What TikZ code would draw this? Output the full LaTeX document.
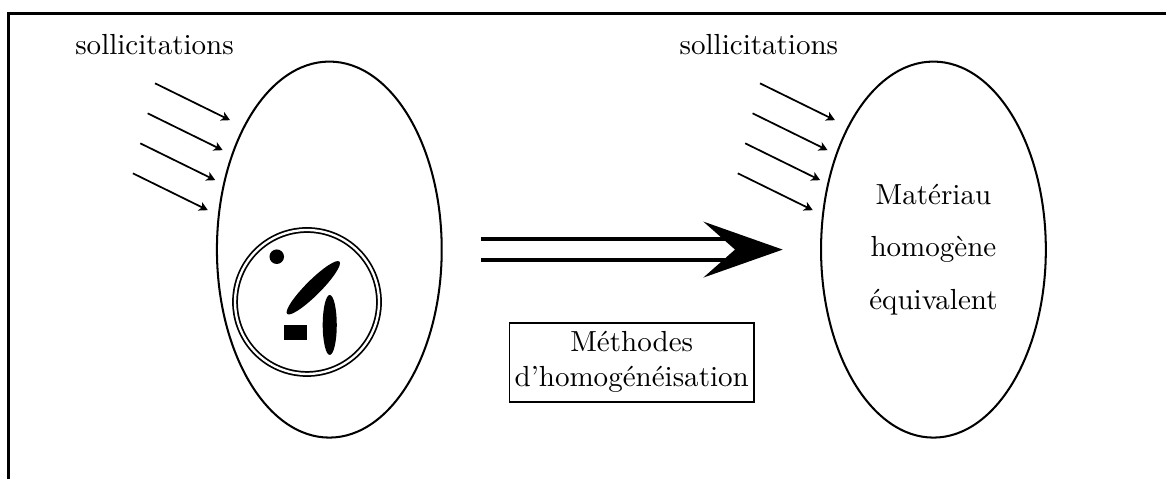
\documentclass[tikz,border=0pt]{standalone}
\usepackage{tikz}
\usetikzlibrary{positioning}
\usetikzlibrary{arrows.meta}
\usetikzlibrary{shapes}

\begin{document}
\begin{tikzpicture}[
      ell style/.style={ellipse,draw=black,line width=0.7pt,minimum
        width=2.72cm,minimum height=4.55cm,inner sep=0pt,align=center},
      force style/.style={line width=0.6pt,-{Stealth[length=3pt,width=3.2pt,inset=0.8pt]}},
      frame style/.style={line width=1pt},
      incl style/.style={fill=black,draw=none,inner sep=0pt}
      ]
      \useasboundingbox (-3.985,-2.776) rectangle (10.124,3.020);
      \draw[frame style] (-3.882,-2.776) |- (10.124,2.857);

      \node[ell style] (hetero) at (0,0) {};
      \node[ell style] (homo) at (7.31,0) {Matériau\\[6pt]homogène\\[6pt]équivalent};

      \node[anchor=base] (sollhetero) at (-2.115,2.355) {sollicitations};
      \node[anchor=base] (sollhomo) at (5.198,2.355) {sollicitations};

      \foreach \k/\dx in {l/0,r/7.32}{
        \foreach \i in {0,...,3}{
          \coordinate (\k fs\i) at (-2.109-0.0895*\i+\dx, 2.012-0.363*\i);
          \coordinate (\k fe\i) at (-1.2015-0.0895*\i+\dx, 1.566-0.363*\i);
          \draw[force style] (\k fs\i) -- (\k fe\i);
        }
      }

      \node[circle,draw=black,double,line width=0.6pt,double distance=0.8pt,
        minimum size=1.742cm,inner sep=0pt] (rve) at (-0.270,-0.634) {};
      \node[incl style,circle,minimum size=0.176cm] (dot) at (-0.636,-0.086) {};
      \node[incl style,ellipse,minimum width=0.896cm,minimum height=0.182cm,
        rotate=45] (fiba) at (-0.194,-0.462) {};
      \node[incl style,ellipse,minimum width=0.17cm,minimum height=0.726cm]
        (fibb) at (0.005,-0.912) {};
      \node[incl style,rectangle,minimum width=0.275cm,minimum height=0.178cm]
        (part) at (-0.41,-1.005) {};

      \coordinate (hstart) at (1.832,0);
      \coordinate (hnotch) at (4.909,0);
      \coordinate (hend) at (5.486,0);
      \draw[line width=1.5pt,double=white,double distance=5.7pt] (hstart) -- (hnotch);
      \fill (hend) -- ++(-0.961,0.339) -- (hnotch) -- ++(-0.384,-0.339) -- cycle;

      \node[draw=black,line width=0.6pt,align=center,minimum width=2.96cm,
        minimum height=0.956cm,inner sep=1pt] (methodes) at (3.659,-1.362)
        {Méthodes\\d’homogénéisation};

    \end{tikzpicture}
\end{document}
